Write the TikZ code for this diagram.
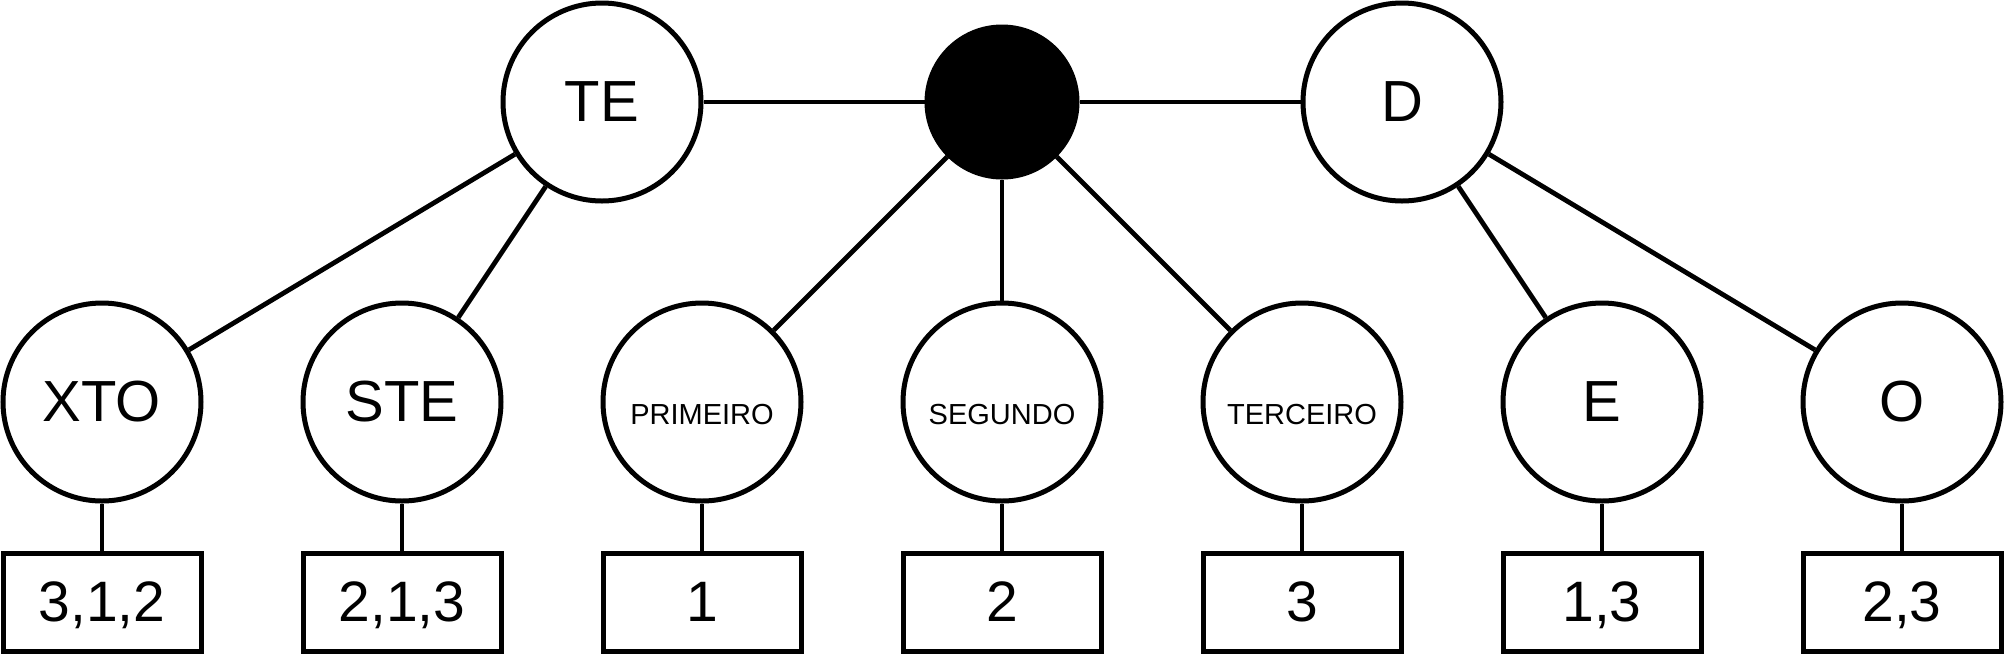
\documentclass[tikz,border=0pt]{standalone}
\usepackage{fontspec}
\setmainfont{Liberation Sans}
\begin{document}
\begin{tikzpicture}[x=0.5pt,y=-0.5pt,
  cnode/.style={circle,draw,line width=2.5pt,minimum size=99pt,inner sep=0pt,fill=white,font=\fontsize{29}{34}\selectfont},
  dotnode/.style={circle,draw,fill=black,line width=2.5pt,minimum size=75pt,inner sep=0pt},
  boxnode/.style={rectangle,draw,line width=2.5pt,minimum width=99pt,minimum height=49pt,inner sep=0pt,text depth=0pt,font=\fontsize{28.5}{34}\selectfont},
  smalltext/.style={font=\fontsize{14.5}{18}\selectfont,yshift=-6.5pt,inner sep=0pt},
  edge/.style={line width=2.4pt}]
\useasboundingbox (0,0) rectangle (2010,655);
% top row
\node[cnode] (TE) at (602,102) {TE};
\node[dotnode] (R) at (1002,102) {};
\node[cnode] (D) at (1402,102) {D};
% middle row
\node[cnode] (XTO) at (102,402) {XTO};
\node[cnode] (STE) at (402,402) {STE};
\node[cnode,label={[smalltext]center:PRIMEIRO}] (P1) at (702,402) {};
\node[cnode,label={[smalltext]center:SEGUNDO}] (P2) at (1002,402) {};
\node[cnode,label={[smalltext]center:TERCEIRO}] (P3) at (1302,402) {};
\node[cnode] (E) at (1602,402) {E};
\node[cnode] (O) at (1902,402) {O};
% boxes
\node[boxnode] (b1) at (102,602) {3,1,2};
\node[boxnode] (b2) at (402,602) {2,1,3};
\node[boxnode] (b3) at (702,602) {1};
\node[boxnode] (b4) at (1002,602) {2};
\node[boxnode] (b5) at (1302,602) {3};
\node[boxnode] (b6) at (1602,602) {1,3};
\node[boxnode] (b7) at (1902,602) {2,3};
% edges
\draw[edge] (TE) -- (R);
\draw[edge] (R) -- (D);
\draw[edge] (TE) -- (XTO);
\draw[edge] (TE) -- (STE);
\draw[edge] (R) -- (P1);
\draw[edge] (R) -- (P2);
\draw[edge] (R) -- (P3);
\draw[edge] (D) -- (E);
\draw[edge] (D) -- (O);
\draw[edge] (XTO) -- (b1);
\draw[edge] (STE) -- (b2);
\draw[edge] (P1) -- (b3);
\draw[edge] (P2) -- (b4);
\draw[edge] (P3) -- (b5);
\draw[edge] (E) -- (b6);
\draw[edge] (O) -- (b7);
\end{tikzpicture}
\end{document}
